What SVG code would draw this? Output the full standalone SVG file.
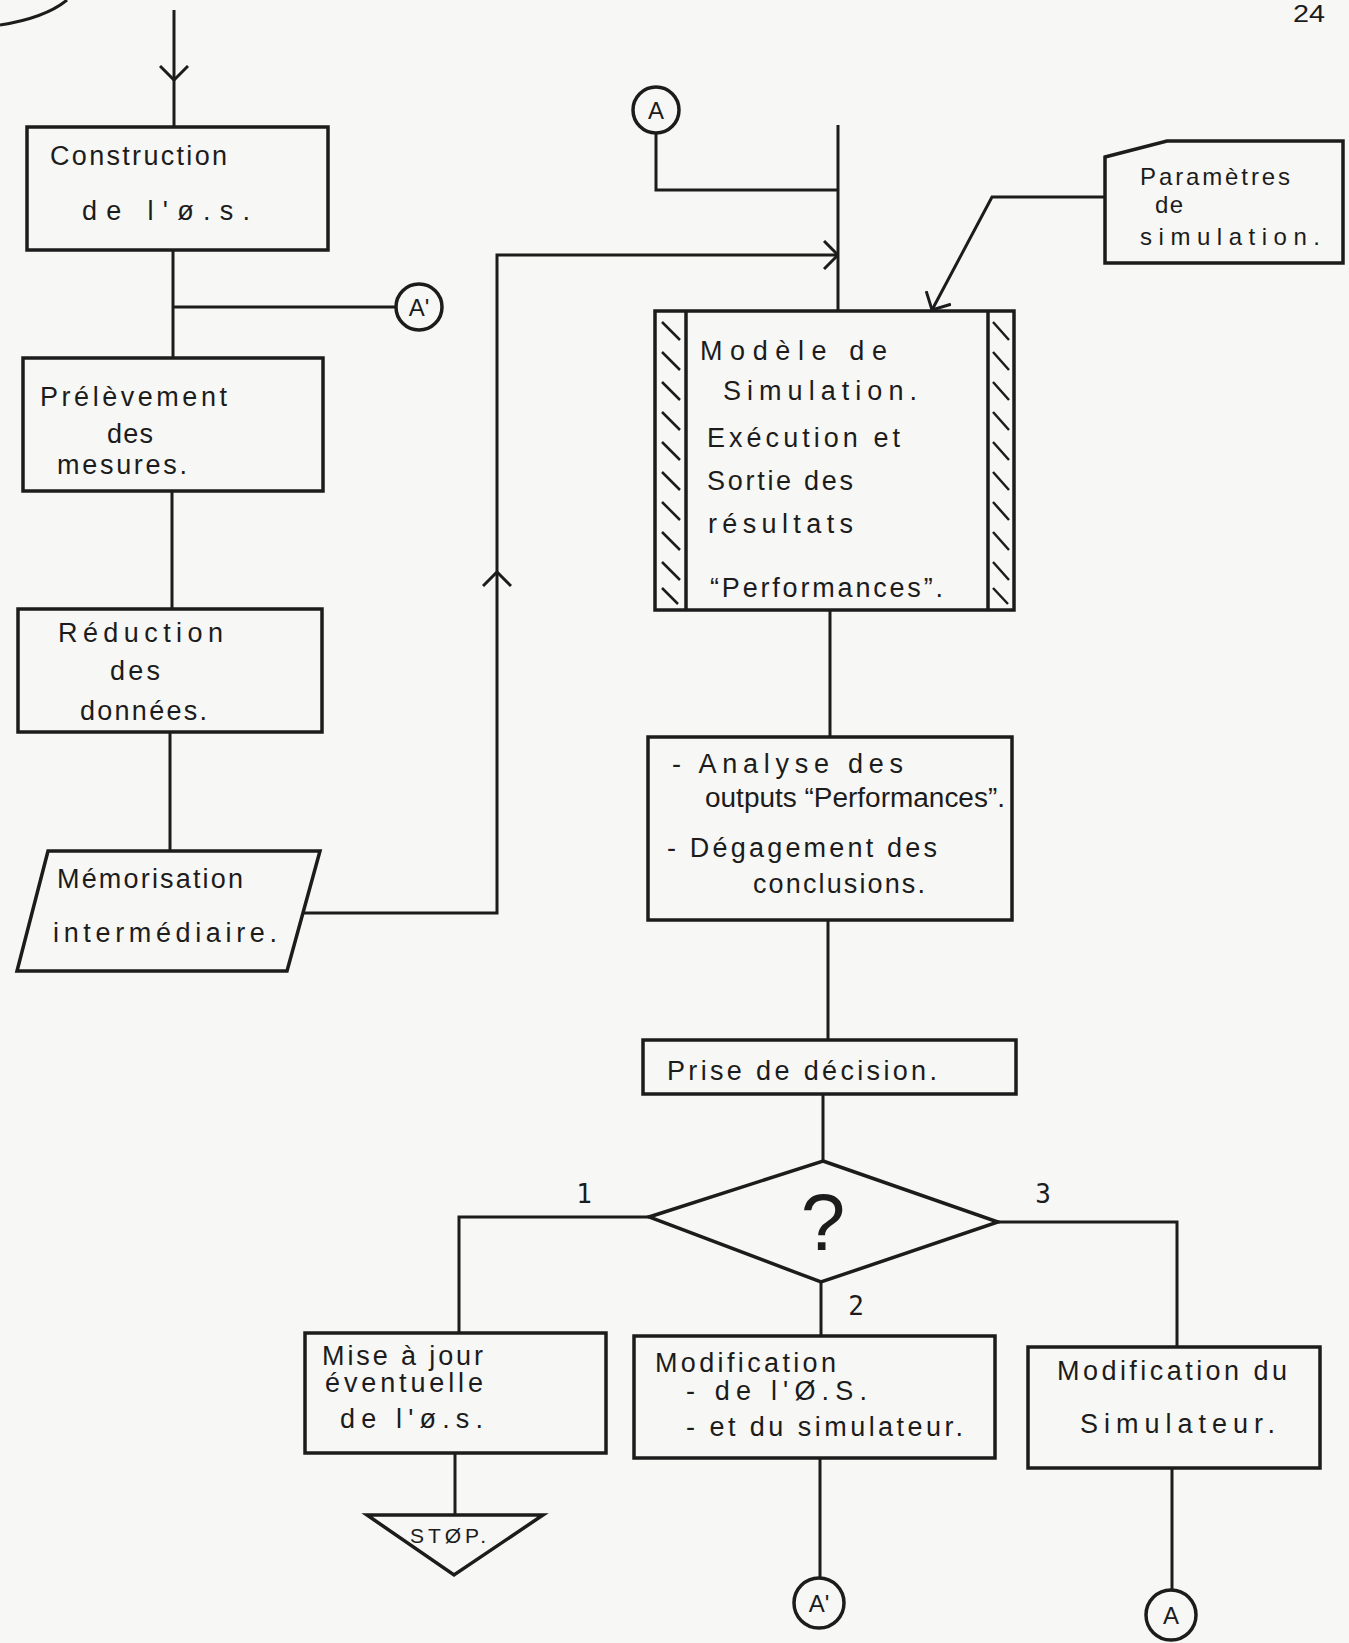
<svg xmlns="http://www.w3.org/2000/svg" width="1349" height="1643" viewBox="0 0 1349 1643">
<style>
.bg{fill:#f7f7f5}
.box{fill:none;stroke:#1c1c1c;stroke-width:3.5;stroke-linejoin:miter}
.ln{fill:none;stroke:#1c1c1c;stroke-width:3}
.ht{fill:none;stroke:#1c1c1c;stroke-width:2.5}
.t{font-family:"Liberation Sans","DejaVu Sans",sans-serif;font-size:27px;fill:#1c1c1c}
.p{font-family:"Liberation Sans","DejaVu Sans",sans-serif;font-size:24px;fill:#1c1c1c}
.s{font-family:"Liberation Sans","DejaVu Sans",sans-serif;font-size:21px;fill:#1c1c1c}
.c{font-family:"Liberation Sans","DejaVu Sans",sans-serif;font-size:24px;fill:#1c1c1c}
.q{font-family:"Liberation Sans","DejaVu Sans",sans-serif;font-size:80px;fill:#1c1c1c}
.n{font-family:"DejaVu Sans Mono","Liberation Mono",monospace;font-size:26px;fill:#1c1c1c}
</style>
<defs>
<marker id="arr" viewBox="0 0 16 30" refX="15" refY="15" markerWidth="16" markerHeight="30" markerUnits="userSpaceOnUse" orient="auto">
<path d="M1,1 L15,15 L1,29" fill="none" stroke="#1c1c1c" stroke-width="3"/>
</marker>
</defs>
<rect class="bg" x="0" y="0" width="1349" height="1643"/>
<path class="ln" d="M0,25 Q45,18 67,0"/>
<text class="p" x="1293" y="22" textLength="32" lengthAdjust="spacingAndGlyphs">24</text>

<g id="connectors">
<path class="ln" d="M174,10 L174,80" marker-end="url(#arr)"/>
<path class="ln" d="M174,80 L174,127"/>
<path class="ln" d="M173,250 L173,358"/>
<path class="ln" d="M173,307 L396,307"/>
<path class="ln" d="M172,491 L172,609"/>
<path class="ln" d="M170,732 L170,851"/>
<path class="ln" d="M303,913 L497,913 L497,572" marker-end="url(#arr)"/>
<path class="ln" d="M497,572 L497,255 L838,255" marker-end="url(#arr)"/>
<path class="ln" d="M656,133 L656,190 L838,190"/>
<path class="ln" d="M838,125 L838,311"/>
<path class="ln" d="M1105,197 L992,197 L932,310" marker-end="url(#arr)"/>
<path class="ln" d="M830,610 L830,737"/>
<path class="ln" d="M828,920 L828,1040"/>
<path class="ln" d="M823,1094 L823,1161"/>
<path class="ln" d="M649,1217 L459,1217 L459,1333"/>
<path class="ln" d="M821,1282 L821,1336"/>
<path class="ln" d="M998,1222 L1177,1222 L1177,1347"/>
<path class="ln" d="M455,1453 L455,1515"/>
<path class="ln" d="M820,1458 L820,1578"/>
<path class="ln" d="M1172,1468 L1172,1590"/>
</g>

<g id="construction">
<rect class="box" x="27" y="127" width="301" height="123"/>
<text class="t" x="50" y="165" textLength="177" lengthAdjust="spacing">Construction</text>
<text class="t" x="82" y="220" textLength="168" lengthAdjust="spacing">de l'ø.s.</text>
</g>

<g id="connA1">
<circle class="box" cx="419" cy="307" r="23"/>
<text class="c" x="419" y="316" text-anchor="middle">A'</text>
</g>

<g id="prelevement">
<rect class="box" x="23" y="358" width="300" height="133"/>
<text class="t" x="40" y="406" textLength="187" lengthAdjust="spacing">Prélèvement</text>
<text class="t" x="107" y="443" textLength="46" lengthAdjust="spacing">des</text>
<text class="t" x="57" y="474" textLength="130" lengthAdjust="spacing">mesures.</text>
</g>

<g id="reduction">
<rect class="box" x="18" y="609" width="304" height="123"/>
<text class="t" x="58" y="642" textLength="165" lengthAdjust="spacing">Réduction</text>
<text class="t" x="110" y="680" textLength="50" lengthAdjust="spacing">des</text>
<text class="t" x="80" y="720" textLength="127" lengthAdjust="spacing">données.</text>
</g>

<g id="memorisation">
<path class="box" d="M48,851 L320,851 L287,971 L17,971 Z"/>
<text class="t" x="57" y="888" textLength="186" lengthAdjust="spacing">Mémorisation</text>
<text class="t" x="53" y="942" textLength="224" lengthAdjust="spacing">intermédiaire.</text>
</g>

<g id="connA2">
<circle class="box" cx="656" cy="110" r="23"/>
<text class="c" x="656" y="119" text-anchor="middle">A</text>
</g>

<g id="parametres">
<path class="box" d="M1105,157 L1167,141 L1343,141 L1343,263 L1105,263 Z"/>
<text class="p" x="1140" y="185" textLength="150" lengthAdjust="spacing">Paramètres</text>
<text class="p" x="1155" y="213" textLength="28" lengthAdjust="spacing">de</text>
<text class="p" x="1140" y="245" textLength="180" lengthAdjust="spacing">simulation.</text>
</g>

<g id="modele">
<rect class="box" x="655" y="311" width="359" height="299"/>
<line class="box" x1="686" y1="311" x2="686" y2="610"/>
<line class="box" x1="988" y1="311" x2="988" y2="610"/>
<path class="ht" d="M662,322 L680,340 M662,352 L680,370 M662,382 L680,400 M662,412 L680,430 M662,442 L680,460 M662,472 L680,490 M662,502 L680,520 M662,532 L680,550 M662,562 L680,580 M662,588 L678,604"/>
<path class="ht" d="M993,322 L1009,340 M993,352 L1009,370 M993,382 L1009,400 M993,412 L1009,430 M993,442 L1009,460 M993,472 L1009,490 M993,502 L1009,520 M993,532 L1009,550 M993,562 L1009,580 M993,588 L1008,604"/>
<text class="t" x="700" y="360" textLength="187" lengthAdjust="spacing">Modèle de</text>
<text class="t" x="723" y="400" textLength="194" lengthAdjust="spacing">Simulation.</text>
<text class="t" x="707" y="447" textLength="193" lengthAdjust="spacing">Exécution et</text>
<text class="t" x="707" y="490" textLength="146" lengthAdjust="spacing">Sortie des</text>
<text class="t" x="708" y="533" textLength="145" lengthAdjust="spacing">résultats</text>
<text class="t" x="710" y="597" textLength="233" lengthAdjust="spacing">“Performances”.</text>
</g>

<g id="analyse">
<rect class="box" x="648" y="737" width="364" height="183"/>
<text class="t" x="672" y="773" textLength="231" lengthAdjust="spacing">- Analyse des</text>
<text class="t" x="705" y="807" textLength="300" lengthAdjust="spacingAndGlyphs">outputs “Performances”.</text>
<text class="t" x="667" y="857" textLength="270" lengthAdjust="spacing">- Dégagement des</text>
<text class="t" x="753" y="893" textLength="172" lengthAdjust="spacing">conclusions.</text>
</g>

<g id="decision">
<rect class="box" x="643" y="1040" width="373" height="54"/>
<text class="t" x="667" y="1080" textLength="270" lengthAdjust="spacing">Prise de décision.</text>
</g>

<g id="choix">
<path class="box" d="M823,1161 L998,1222 L821,1282 L649,1217 Z"/>
<text class="q" x="823" y="1250" text-anchor="middle">?</text>
<text class="n" x="584" y="1203" text-anchor="middle">1</text>
<text class="n" x="856" y="1315" text-anchor="middle">2</text>
<text class="n" x="1043" y="1203" text-anchor="middle">3</text>
</g>

<g id="miseajour">
<rect class="box" x="305" y="1333" width="301" height="120"/>
<text class="t" x="322" y="1365" textLength="161" lengthAdjust="spacing">Mise à jour</text>
<text class="t" x="325" y="1392" textLength="158" lengthAdjust="spacing">éventuelle</text>
<text class="t" x="340" y="1428" textLength="143" lengthAdjust="spacing">de l'ø.s.</text>
</g>

<g id="stop">
<path class="box" d="M367,1515 L543,1515 L454,1575 Z"/>
<text class="s" x="410" y="1543" textLength="76" lengthAdjust="spacing">STØP.</text>
</g>

<g id="modifOS">
<rect class="box" x="634" y="1336" width="361" height="122"/>
<text class="t" x="655" y="1372" textLength="181" lengthAdjust="spacing">Modification</text>
<text class="t" x="686" y="1400" textLength="181" lengthAdjust="spacing">- de l'Ø.S.</text>
<text class="t" x="686" y="1436" textLength="277" lengthAdjust="spacing">- et du simulateur.</text>
</g>

<g id="modifSim">
<rect class="box" x="1028" y="1347" width="292" height="121"/>
<text class="t" x="1057" y="1380" textLength="230" lengthAdjust="spacing">Modification du</text>
<text class="t" x="1080" y="1433" textLength="195" lengthAdjust="spacing">Simulateur.</text>
</g>

<g id="connA3">
<circle class="box" cx="819" cy="1603" r="25"/>
<text class="c" x="819" y="1612" text-anchor="middle">A'</text>
</g>

<g id="connA4">
<circle class="box" cx="1171" cy="1615" r="25"/>
<text class="c" x="1171" y="1624" text-anchor="middle">A</text>
</g>
</svg>
